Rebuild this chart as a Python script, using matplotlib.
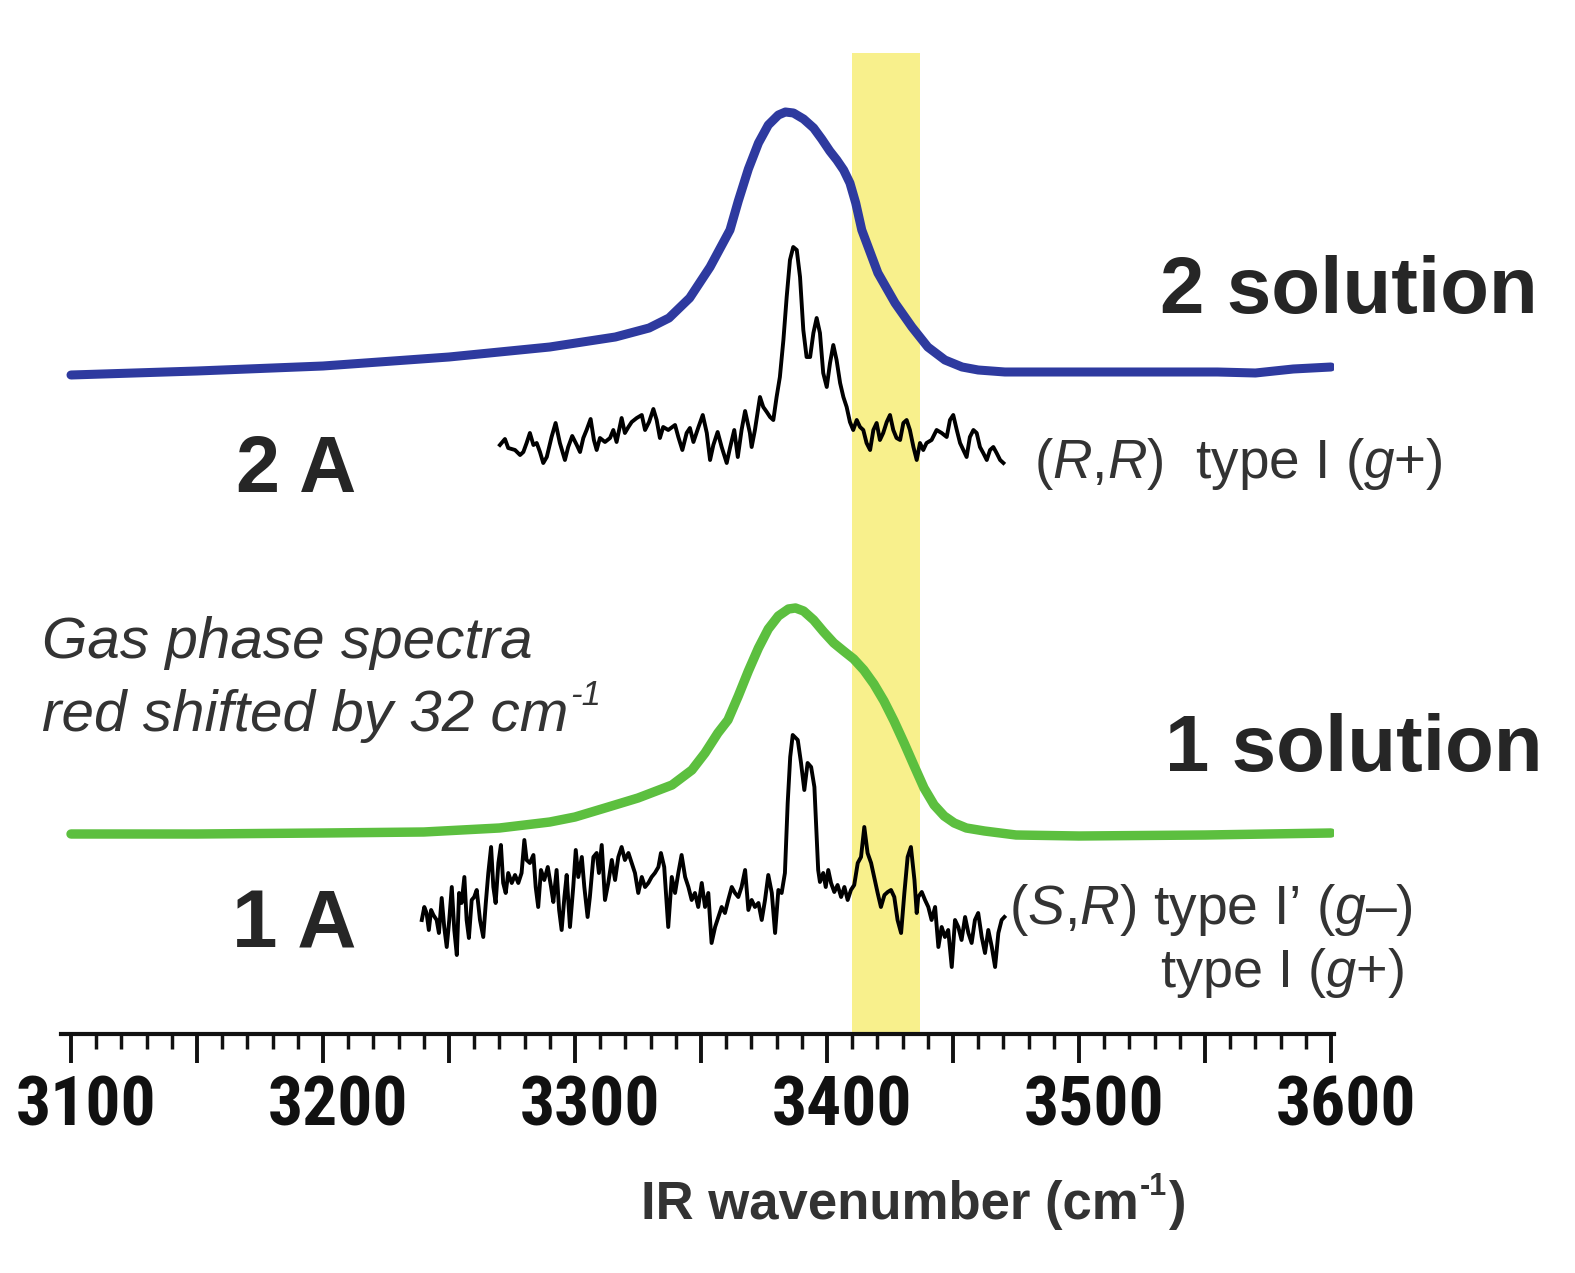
import os
import matplotlib
matplotlib.use("Agg")
import matplotlib.pyplot as plt
from matplotlib import font_manager
from matplotlib.font_manager import FontProperties
from matplotlib.transforms import ScaledTranslation
from matplotlib.ticker import MultipleLocator

# ---------------- data ----------------
# x: IR wavenumber (cm-1); y: stacked intensity (arbitrary units, offsets included)
blue_x = [3100, 3150, 3200, 3250, 3290, 3316, 3329.4, 3337.3, 3345.5, 3353.6, 3361.5,
          3364.8, 3368.8, 3372.8, 3376.7, 3380.7, 3383.5, 3386.7, 3390.7, 3394.7,
          3397.9, 3401.1, 3403.9, 3406.6, 3409.1, 3411.4, 3413.8, 3420.2, 3427.0, 3433.7,
          3440.0, 3446.8, 3453.6, 3460.0, 3470.6, 3500, 3530, 3555, 3570, 3585, 3600]
blue_y = [659, 663, 668, 677, 687, 697, 706, 716, 736, 767, 804,
          833, 865, 891, 909, 919, 922, 921, 915, 906,
          895, 883, 874, 864, 851, 831, 804, 761, 731, 707,
          687, 674, 667, 664, 662, 662, 662, 662, 661, 665, 667]

green_x = [3100, 3150, 3200, 3240, 3270, 3290, 3300, 3311.9, 3325.0, 3338.5, 3346.4,
           3351.6, 3356.7, 3360.7, 3364.8, 3368.8, 3372.8, 3376.7, 3380.7, 3384.7,
           3387.5, 3390.7, 3394.7, 3398.7, 3402.7, 3406.6, 3410.6, 3414.6, 3418.6,
           3422.6, 3426.6, 3430.6, 3434.6, 3438.5, 3442.5, 3446.5, 3450.5, 3455.3,
           3462.5, 3475, 3500, 3550, 3600]
green_y = [200, 200, 201, 202, 206, 212, 217, 226, 236, 249, 264,
           281, 301, 314, 338, 363, 386, 405, 418, 425,
           426, 423, 414, 402, 391, 383, 375, 364, 350,
           333, 313, 291, 268, 246, 229, 218, 211, 206,
           203, 199, 198, 199, 201]

a2_x = [3270.2, 3272.2, 3273.5, 3276.2, 3278.2, 3279.5, 3280.8, 3282.1, 3283.5, 3284.8,
        3286.1, 3287.4, 3288.8, 3290.7, 3292.3, 3294.0, 3296.0, 3297.3, 3298.9, 3300.7,
        3302.0, 3303.3, 3304.6, 3306.2, 3307.5, 3308.6, 3309.9, 3311.9, 3313.9, 3315.2,
        3316.5, 3318.5, 3319.8, 3321.2, 3322.5, 3324.5, 3326.5, 3327.8, 3329.4, 3331.1,
        3332.4, 3333.7, 3335.0, 3337.0, 3339.7, 3341.0, 3342.6, 3344.3, 3345.6, 3347.0,
        3349.0, 3350.7, 3352.3, 3353.6, 3354.9, 3356.6, 3358.2, 3360.2, 3361.5, 3363.2,
        3364.6, 3366.1, 3367.5, 3369.4, 3370.1, 3371.4, 3373.4, 3374.7, 3376.1, 3377.4,
        3378.7, 3380.0, 3381.3, 3382.7, 3384.0, 3385.3, 3386.6, 3388.0, 3389.3, 3390.6,
        3391.9, 3393.3, 3394.6, 3395.9, 3397.2, 3398.5, 3399.9, 3401.2, 3402.5, 3403.8,
        3405.2, 3406.5, 3407.8, 3409.1, 3410.4, 3411.8, 3413.1, 3414.4, 3415.7, 3417.1,
        3418.4, 3419.7, 3421.0, 3422.3, 3423.7, 3425.0, 3426.3, 3427.6, 3429.0, 3430.3,
        3431.6, 3432.9, 3434.3, 3435.6, 3436.9, 3438.2, 3439.5, 3441.5, 3443.5, 3445.5,
        3447.5, 3448.8, 3450.1, 3451.5, 3452.8, 3454.1, 3455.4, 3456.7, 3458.1, 3459.4,
        3460.7, 3462.0, 3463.4, 3464.7, 3466.0, 3467.3, 3468.7, 3470.0]
a2_y = [589, 595, 586, 584, 579, 582, 591, 601, 589, 591,
        582, 571, 577, 597, 611, 591, 574, 587, 598, 589,
        582, 596, 604, 615, 594, 584, 596, 592, 596, 604,
        592, 616, 601, 607, 612, 616, 619, 604, 612, 625,
        614, 596, 607, 604, 609, 597, 584, 601, 606, 592,
        607, 619, 601, 574, 589, 602, 587, 571, 586, 604,
        577, 604, 623, 601, 587, 604, 637, 627, 622, 617,
        614, 637, 657, 694, 737, 774, 787, 784, 757, 704,
        677, 677, 701, 716, 701, 661, 647, 671, 689, 674,
        651, 637, 627, 612, 604, 614, 607, 604, 591, 584,
        604, 611, 594, 601, 612, 619, 604, 596, 594, 611,
        614, 604, 587, 574, 591, 584, 591, 594, 604, 601,
        597, 614, 619, 604, 591, 584, 577, 597, 604, 601,
        587, 581, 574, 584, 587, 581, 574, 571]

a1_x = [3239.2, 3240.2, 3241.1, 3242.0, 3242.9, 3243.8, 3245.1, 3246.0, 3247.1, 3248.1,
        3249.1, 3250.1, 3251.1, 3252.1, 3253.1, 3254.0, 3255.0, 3256.1, 3257.0, 3257.9,
        3259.0, 3260.0, 3261.0, 3262.3, 3263.6, 3264.6, 3265.6, 3266.7, 3267.6, 3268.5,
        3269.6, 3270.6, 3271.5, 3272.5, 3273.5, 3274.9, 3276.2, 3277.5, 3278.8, 3279.9,
        3280.8, 3282.1, 3283.5, 3284.4, 3285.4, 3286.5, 3287.8, 3289.2, 3290.5, 3291.4,
        3292.7, 3293.7, 3294.7, 3295.8, 3296.7, 3298.0, 3299.3, 3300.3, 3301.3, 3302.7,
        3303.7, 3305.0, 3305.9, 3307.3, 3308.6, 3309.5, 3310.6, 3311.9, 3313.2, 3314.6,
        3315.9, 3317.2, 3318.5, 3319.8, 3321.2, 3322.5, 3323.8, 3325.1, 3326.5, 3327.8,
        3329.1, 3330.4, 3331.7, 3333.1, 3334.1, 3335.4, 3337.0, 3338.4, 3339.7, 3341.0,
        3342.3, 3343.7, 3345.0, 3346.3, 3347.6, 3348.9, 3350.3, 3351.6, 3352.9, 3354.2,
        3355.6, 3356.9, 3358.2, 3359.5, 3360.8, 3362.2, 3363.5, 3364.8, 3366.1, 3367.5,
        3368.8, 3370.1, 3371.4, 3372.8, 3374.1, 3375.4, 3376.7, 3378.1, 3379.4, 3380.7,
        3382.0, 3383.3, 3384.4, 3385.4, 3386.4, 3388.4, 3389.7, 3391.0, 3392.3, 3393.7,
        3395.0, 3396.5, 3397.2, 3398.5, 3399.5, 3400.5, 3401.6, 3402.9, 3404.2, 3405.6,
        3406.9, 3408.2, 3409.5, 3410.8, 3412.2, 3413.5, 3414.8, 3416.1, 3417.5, 3418.8,
        3420.1, 3421.4, 3422.8, 3424.1, 3425.4, 3426.7, 3428.0, 3429.4, 3430.7, 3432.0,
        3433.3, 3434.7, 3435.6, 3436.2, 3437.6, 3438.9, 3440.2, 3441.5, 3442.9, 3444.2,
        3445.5, 3446.8, 3448.1, 3449.5, 3450.8, 3452.1, 3453.4, 3454.8, 3456.1, 3457.4,
        3458.7, 3460.0, 3461.4, 3462.7, 3464.0, 3465.4, 3466.7, 3468.0, 3469.3, 3470.4]
a1_y = [114, 127, 121, 104, 124, 119, 114, 101, 136, 107,
        87, 114, 147, 104, 79, 141, 131, 157, 114, 96,
        134, 137, 144, 114, 97, 131, 161, 187, 147, 131,
        171, 189, 151, 141, 161, 151, 159, 151, 161, 194,
        174, 171, 179, 147, 127, 164, 154, 167, 147, 132,
        164, 124, 104, 137, 159, 107, 147, 184, 157, 177,
        147, 117, 137, 177, 181, 161, 189, 134, 151, 174,
        154, 177, 187, 174, 181, 171, 161, 141, 157, 147,
        151, 157, 161, 167, 181, 167, 107, 157, 141, 161,
        179, 157, 147, 134, 141, 127, 151, 127, 141, 91,
        107, 117, 127, 121, 134, 147, 141, 137, 147, 164,
        124, 134, 127, 131, 114, 134, 159, 141, 101, 144,
        141, 161, 231, 277, 299, 294, 271, 244, 271, 267,
        247, 164, 152, 161, 147, 164, 151, 142, 149, 137,
        147, 134, 144, 149, 171, 177, 207, 181, 171, 156,
        141, 127, 139, 142, 144, 137, 114, 101, 141, 177,
        187, 154, 121, 137, 142, 134, 127, 114, 127, 87,
        107, 97, 104, 67, 114, 107, 94, 117, 101, 91,
        114, 121, 97, 81, 104, 87, 67, 101, 114, 117]

band_lo, band_hi = 3410, 3437          # highlighted region (cm-1)
x_ticks_major = [3100, 3150, 3200, 3250, 3300, 3350, 3400, 3450, 3500, 3550, 3600]
x_tick_labels = ["3100", "", "3200", "", "3300", "", "3400", "", "3500", "", "3600"]

# ---------------- fonts ----------------
names = {f.name for f in font_manager.fontManager.ttflist}
SANS = "Liberation Sans" if "Liberation Sans" in names else "DejaVu Sans"
plt.rcParams["mathtext.fontset"] = "custom"
plt.rcParams["mathtext.rm"] = SANS
plt.rcParams["mathtext.it"] = SANS + ":italic"
plt.rcParams["mathtext.bf"] = SANS + ":bold"
plt.rcParams["font.family"] = [SANS, "DejaVu Sans"]


def find_condensed_bold():
    best = None
    best_rank = 99
    pref = ["liberation sans narrow", "arial narrow", "nimbus sans narrow",
            "roboto condensed", "open sans condensed", "dejavu sans"]
    for f in font_manager.fontManager.ttflist:
        nm = f.name.lower()
        fn = os.path.basename(f.fname).lower()
        st = f.stretch
        cond = ("narrow" in nm or "condensed" in nm or "narrow" in fn
                or "condensed" in fn
                or st in ("condensed", "semi-condensed", "extra-condensed")
                or (isinstance(st, int) and st < 500))
        w = f.weight
        bold = (w in ("bold", "heavy", "black") or (isinstance(w, int) and w >= 700)
                or "bold" in fn)
        ital = f.style != "normal" or "italic" in fn or "oblique" in fn
        if cond and bold and not ital:
            rank = len(pref)
            for i, p in enumerate(pref):
                if nm.startswith(p):
                    rank = i
                    break
            if rank < best_rank:
                best, best_rank = f.fname, rank
    return best


cond_file = find_condensed_bold()
if cond_file:
    tick_fp = FontProperties(fname=cond_file, size=50)
else:
    tick_fp = FontProperties(family=SANS, weight="bold", size=45)

# ---------------- figure ----------------
W, H = 1575, 1273
fig = plt.figure(figsize=(W / 100, H / 100), dpi=100)

x0, x1 = 3096, 3601
ppc = 2.52  # pixels per cm-1
left_px = 71 - (3100 - x0) * ppc
right_px = 1331 + (x1 - 3600) * ppc
bottom_px, top_px = 1034, 50
ax = fig.add_axes([left_px / W, 1 - bottom_px / H,
                   (right_px - left_px) / W, (bottom_px - top_px) / H])
ax.set_xlim(x0, x1)
ax.set_ylim(0, bottom_px - top_px)

ax.axvspan(band_lo, band_hi, ymin=0, ymax=(1034 - 53) / (bottom_px - top_px),
           color="#f8f08c", lw=0, zorder=0)

ax.plot(blue_x, blue_y, color="#2e3a9f", lw=6.5, solid_capstyle="round",
        solid_joinstyle="round", zorder=2)
ax.plot(green_x, green_y, color="#5cbf3f", lw=6.8, solid_capstyle="round",
        solid_joinstyle="round", zorder=2)
ax.plot(a2_x, a2_y, color="black", lw=2.8, solid_joinstyle="round", zorder=3)
ax.plot(a1_x, a1_y, color="black", lw=2.8, solid_joinstyle="round", zorder=3)

for s in ["top", "left", "right"]:
    ax.spines[s].set_visible(False)
ax.spines["bottom"].set_linewidth(3)
ax.spines["bottom"].set_color("#111111")
ax.set_yticks([])
ax.set_xticks(x_ticks_major)
ax.set_xticklabels(x_tick_labels, fontproperties=tick_fp, color="#111111")
ax.xaxis.set_minor_locator(MultipleLocator(10))
ax.tick_params(axis="x", which="major", direction="out", length=21, width=2.8,
               color="#111111", pad=8)
ax.tick_params(axis="x", which="minor", direction="out", length=10.5, width=2.5,
               color="#111111")
off = ScaledTranslation(0.15, 0, fig.dpi_scale_trans)
for lbl in ax.get_xticklabels():
    lbl.set_transform(lbl.get_transform() + off)


def ftext(x, y, s, **kw):
    return fig.text(x / W, 1 - y / H, s, va="baseline", **kw)


renderer = fig.canvas.get_renderer()


def right_px_of(t):
    return t.get_window_extent(renderer).x1


dark = "#262626"
gray = "#333333"
ftext(1160, 313, "2 solution", fontsize=57.5, fontweight="bold", color=dark)
ftext(1165, 771, "1 solution", fontsize=57.5, fontweight="bold", color=dark)
ftext(236, 492, "2 A", fontsize=57, fontweight="bold", color=dark)
ftext(232, 948, "1 A", fontsize=59, fontweight="bold", color=dark)
ftext(42, 658, "Gas phase spectra", fontsize=42, fontstyle="italic", color=gray)
t = ftext(42, 731, "red shifted by 32 cm", fontsize=42, fontstyle="italic", color=gray)
xr = right_px_of(t)
ftext(xr + 2, 731 - 26, "-1", fontsize=25, fontstyle="italic", color=gray)

ftext(1034, 478, r"($\mathit{R}$,$\mathit{R}$)  type I ($\mathit{g}$+)",
      fontsize=39.5, color=gray)
ftext(1009, 924, "(" + r"$\mathit{S}$,$\mathit{R}$) type I’ ($\mathit{g}$–)",
      fontsize=39.8, color=gray)
ftext(1160, 987, r"type I ($\mathit{g}$+)", fontsize=39, color=gray)

t1 = ftext(641, 1219, "IR wavenumber (cm", fontsize=38, fontweight="bold", color=gray)
xr = right_px_of(t1)
t2 = ftext(xr + 1, 1219 - 24, "-1", fontsize=22, fontweight="bold", color=gray)
xr2 = right_px_of(t2)
ftext(xr2 + 2, 1219, ")", fontsize=38, fontweight="bold", color=gray)

fig.savefig("out.png", dpi=100, facecolor="white")
